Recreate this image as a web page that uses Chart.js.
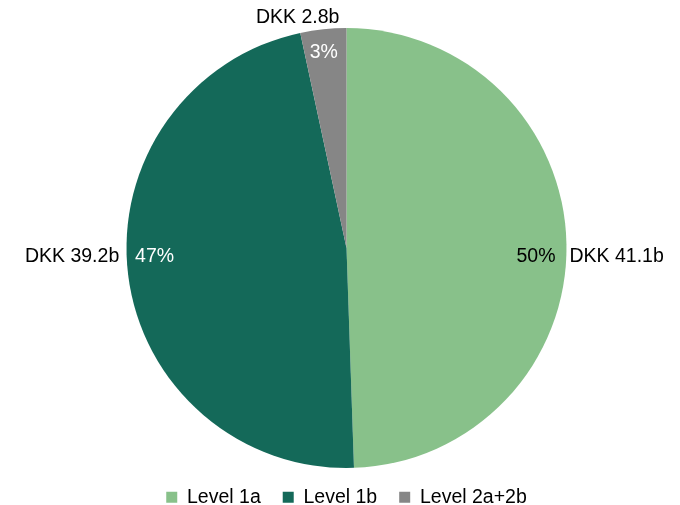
<!DOCTYPE html>
<html>
<head>
<meta charset="utf-8">
<script src="https://cdn.jsdelivr.net/npm/chart.js@4/dist/chart.umd.min.js"></script>
<style>
html,body{margin:0;padding:0;background:#fff;}
#wrap{width:680px;height:505px;position:relative;}
</style>
</head>
<body>
<div id="wrap"><canvas id="c" width="680" height="505"></canvas></div>
<script>
const categories = ["Level 1a", "Level 1b", "Level 2a+2b"];
const values = [41.1, 39.2, 2.8];
const valueLabels = ["DKK 41.1b", "DKK 39.2b", "DKK 2.8b"];
const percentLabels = ["50%", "47%", "3%"];
const colors = ["#88c18a", "#146959", "#868686"];
const pctColors = ["#000000", "#ffffff", "#ffffff"];

const FONT = "'Liberation Sans', Arial, sans-serif";
const FS = 19.5;

const labelPlugin = {
  id: 'pieLabels',
  afterDatasetsDraw(chart) {
    const ctx = chart.ctx;
    const meta = chart.getDatasetMeta(0);
    ctx.save();
    ctx.font = FS + 'px ' + FONT;
    ctx.textBaseline = 'middle';
    meta.data.forEach((arc, i) => {
      const p = arc.getProps(['x', 'y', 'startAngle', 'endAngle', 'outerRadius'], true);
      const mid = (p.startAngle + p.endAngle) / 2;
      const c = Math.cos(mid), s = Math.sin(mid);
      const r = p.outerRadius;
      const pct = percentLabels[i];
      if (Math.abs(c) > 0.9) {
        const ly = p.y + r * 0.04;
        ctx.fillStyle = pctColors[i];
        ctx.textAlign = c > 0 ? 'right' : 'left';
        ctx.fillText(pct, p.x + c * (r - (c > 0 ? 11 : 7)), ly);
        ctx.fillStyle = '#000';
        ctx.textAlign = c > 0 ? 'left' : 'right';
        ctx.fillText(valueLabels[i], p.x + c * (r + (c > 0 ? 3 : 9)), ly);
      } else {
        ctx.fillStyle = pctColors[i];
        ctx.textAlign = 'center';
        ctx.fillText(pct, p.x + c * (r - 24) - 2, p.y + s * (r - 24));
        ctx.fillStyle = '#000';
        ctx.fillText(valueLabels[i], p.x + c * (r + 12) + c * 230, p.y + s * (r + 12));
      }
    });
    ctx.restore();
  }
};

new Chart(document.getElementById('c'), {
  type: 'pie',
  data: {
    labels: categories,
    datasets: [{
      data: values,
      backgroundColor: colors,
      borderWidth: 0,
      radius: 220
    }]
  },
  options: {
    responsive: false,
    animation: false,
    layout: { padding: { top: 30.5, bottom: -12, left: 14, right: 1 } },
    plugins: {
      tooltip: { enabled: false },
      legend: {
        position: 'bottom',
        labels: {
          boxWidth: 11,
          boxHeight: 11,
          padding: 22,
          color: '#000',
          font: { family: FONT, size: FS }
        }
      }
    }
  },
  plugins: [labelPlugin]
});
</script>
</body>
</html>
